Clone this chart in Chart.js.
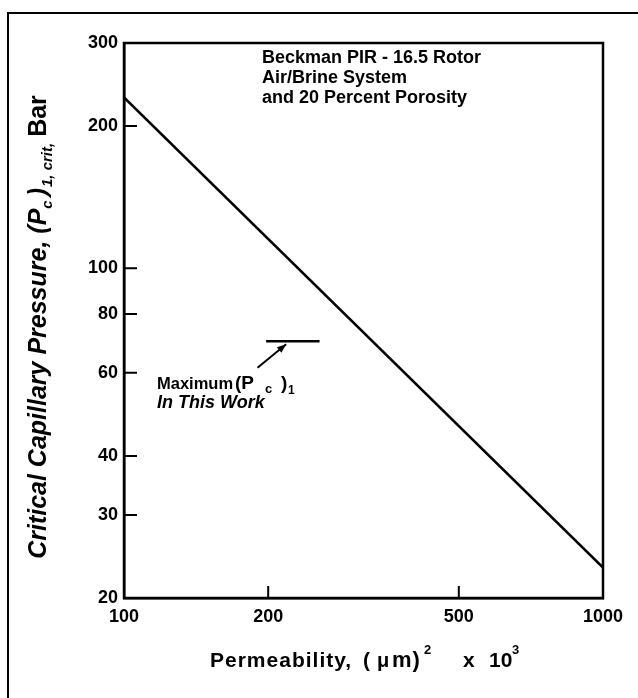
<!DOCTYPE html>
<html>
<head>
<meta charset="utf-8">
<script src="https://cdn.jsdelivr.net/npm/chart.js@4/dist/chart.umd.min.js"></script>
<style>
  html, body { margin: 0; padding: 0; background: #fff; }
  #wrap { width: 638px; height: 698px; }
</style>
</head>
<body>
<div id="wrap"><canvas id="c" width="638" height="698"></canvas></div>
<script>
// ---- data ----
const permeability = [100, 1000];          // (µm)^2 x 10^3
const criticalPc = [230, 23.2];            // bar
const maxPcX = [198, 256];                 // short horizontal marker
const maxPcY = [70, 70];
const arrowX = [190, 218];                 // leader arrow
const arrowY = [61.5, 69];
const xTickLabels = [100, 200, 500, 1000];
const yTickLabels = [20, 30, 40, 60, 80, 100, 200, 300];
const xTickMarks = [200, 500];
const yTickMarks = [30, 40, 60, 80, 100, 200];

const FAM = '"Liberation Sans", Arial, Helvetica, sans-serif';
const pts = (xs, ys) => xs.map((x, i) => ({ x: x, y: ys[i] }));

function setFont(ctx, s) {
  ctx.font = (s.style || 'bold') + ' ' + s.size + 'px ' + FAM;
  if ('letterSpacing' in ctx) ctx.letterSpacing = s.ls || '0px';
}
function drawSegs(ctx, x, y, segs) {
  let cx = x;
  for (const s of segs) {
    setFont(ctx, s);
    if (s.at !== undefined) cx = x + s.at;
    ctx.fillText(s.t, cx, y + (s.dy || 0));
    cx += ctx.measureText(s.t).width + (s.gap || 0);
  }
  if ('letterSpacing' in ctx) ctx.letterSpacing = '0px';
}
function segsWidth(ctx, segs) {
  let w = 0;
  for (const s of segs) {
    setFont(ctx, s);
    w += ctx.measureText(s.t).width + (s.gap || 0);
  }
  if ('letterSpacing' in ctx) ctx.letterSpacing = '0px';
  return w;
}

const decor = {
  id: 'decor',
  afterDraw(chart) {
    const ctx = chart.ctx;
    const xs = chart.scales.x, ys = chart.scales.y;
    const { left, top, right, bottom } = chart.chartArea;
    ctx.save();
    ctx.strokeStyle = '#000';
    ctx.fillStyle = '#000';
    ctx.lineCap = 'butt';

    // plot frame
    ctx.lineWidth = 2.5;
    ctx.strokeRect(left, top, right - left, bottom - top);

    // outer page frame (left + top visible)
    ctx.lineWidth = 2;
    ctx.beginPath();
    ctx.moveTo(8, 698); ctx.lineTo(8, 13); ctx.lineTo(638, 13);
    ctx.stroke();

    // inside tick marks
    ctx.lineWidth = 2;
    ctx.beginPath();
    for (const v of yTickMarks) {
      const py = ys.getPixelForValue(v);
      ctx.moveTo(left, py); ctx.lineTo(left + 13, py);
    }
    for (const v of xTickMarks) {
      const px = xs.getPixelForValue(v);
      ctx.moveTo(px, bottom); ctx.lineTo(px, bottom - 12);
    }
    ctx.stroke();

    // arrowhead on leader line
    const x1 = xs.getPixelForValue(arrowX[0]), y1 = ys.getPixelForValue(arrowY[0]);
    const x2 = xs.getPixelForValue(arrowX[1]), y2 = ys.getPixelForValue(arrowY[1]);
    const a = Math.atan2(y2 - y1, x2 - x1);
    const L = 9, W = 3.5;
    ctx.beginPath();
    ctx.moveTo(x2, y2);
    ctx.lineTo(x2 - L * Math.cos(a) + W * Math.sin(a), y2 - L * Math.sin(a) - W * Math.cos(a));
    ctx.lineTo(x2 - L * Math.cos(a) - W * Math.sin(a), y2 - L * Math.sin(a) + W * Math.cos(a));
    ctx.closePath();
    ctx.fill();

    ctx.textBaseline = 'alphabetic';
    ctx.textAlign = 'left';

    // condition notes
    ctx.font = 'bold 18px ' + FAM;
    ctx.fillText('Beckman PIR - 16.5 Rotor', 262, 63);
    ctx.fillText('Air/Brine System', 262, 83);
    ctx.fillText('and 20 Percent Porosity', 262, 103);

    // max Pc label
    drawSegs(ctx, 157, 389, [
      { t: 'Maximum', size: 16.5 },
      { t: '(P', size: 19, at: 78 },
      { t: 'c', size: 13, dy: 4, at: 108 },
      { t: ')', size: 19, at: 124 },
      { t: '1', size: 12, dy: 5, at: 131 }
    ]);
    drawSegs(ctx, 157, 408, [{ t: 'In This Work', size: 18, style: 'italic bold' }]);

    // x title
    drawSegs(ctx, 210, 667, [
      { t: 'Permeability,', size: 21, ls: '1px' },
      { t: '(', size: 21, at: 153 },
      { t: '\u03bc', size: 20, at: 167 },
      { t: 'm)', size: 22, ls: '1px', at: 182 },
      { t: '2', size: 13, dy: -13, at: 214 },
      { t: 'x', size: 21, at: 253 },
      { t: '10', size: 21, at: 279 },
      { t: '3', size: 13, dy: -13, at: 302 }
    ]);

    // y title (rotated)
    const ySegs = [
      { t: 'Critical Capillary Pressure, (P', size: 25, style: 'italic bold' },
      { t: 'c', size: 15, style: 'italic bold', dy: 6, gap: 4 },
      { t: ')', size: 25, style: 'italic bold', gap: 1 },
      { t: '1, crit,', size: 15, style: 'italic bold', dy: 6, gap: 6 },
      { t: 'Bar', size: 25, style: 'bold' }
    ];
    ctx.translate(46, 327);
    ctx.rotate(-Math.PI / 2);
    const w = segsWidth(ctx, ySegs);
    drawSegs(ctx, -w / 2, 0, ySegs);
    ctx.restore();
  }
};

new Chart(document.getElementById('c'), {
  type: 'line',
  data: {
    datasets: [
      { data: pts(permeability, criticalPc), borderColor: '#000', borderWidth: 2.5, pointRadius: 0, tension: 0 },
      { data: pts(maxPcX, maxPcY), borderColor: '#000', borderWidth: 2.5, pointRadius: 0, tension: 0 },
      { data: pts(arrowX, arrowY), borderColor: '#000', borderWidth: 2, pointRadius: 0, tension: 0 }
    ]
  },
  options: {
    responsive: false,
    animation: false,
    events: [],
    layout: { padding: { top: 43, right: 35, left: 0, bottom: 0 } },
    plugins: { legend: { display: false }, tooltip: { enabled: false }, title: { display: false } },
    scales: {
      x: {
        type: 'logarithmic', min: 100, max: 1000,
        afterBuildTicks: s => { s.ticks = xTickLabels.map(v => ({ value: v })); },
        afterFit: s => { s.height = 100; },
        grid: { display: false, drawTicks: false },
        border: { display: true, color: '#000', width: 2.5 },
        ticks: {
          color: '#000', padding: 8, maxRotation: 0, autoSkip: false,
          font: { family: FAM, size: 18, weight: 'bold' },
          callback: v => String(v)
        }
      },
      y: {
        type: 'logarithmic', min: 20, max: 300,
        afterBuildTicks: s => { s.ticks = yTickLabels.map(v => ({ value: v })); },
        afterFit: s => { s.width = 124; },
        grid: { display: false, drawTicks: false },
        border: { display: true, color: '#000', width: 2.5 },
        ticks: {
          color: '#000', padding: 6, autoSkip: false,
          font: { family: FAM, size: 18, weight: 'bold' },
          callback: v => String(v)
        }
      }
    }
  },
  plugins: [decor]
});
</script>
</body>
</html>
